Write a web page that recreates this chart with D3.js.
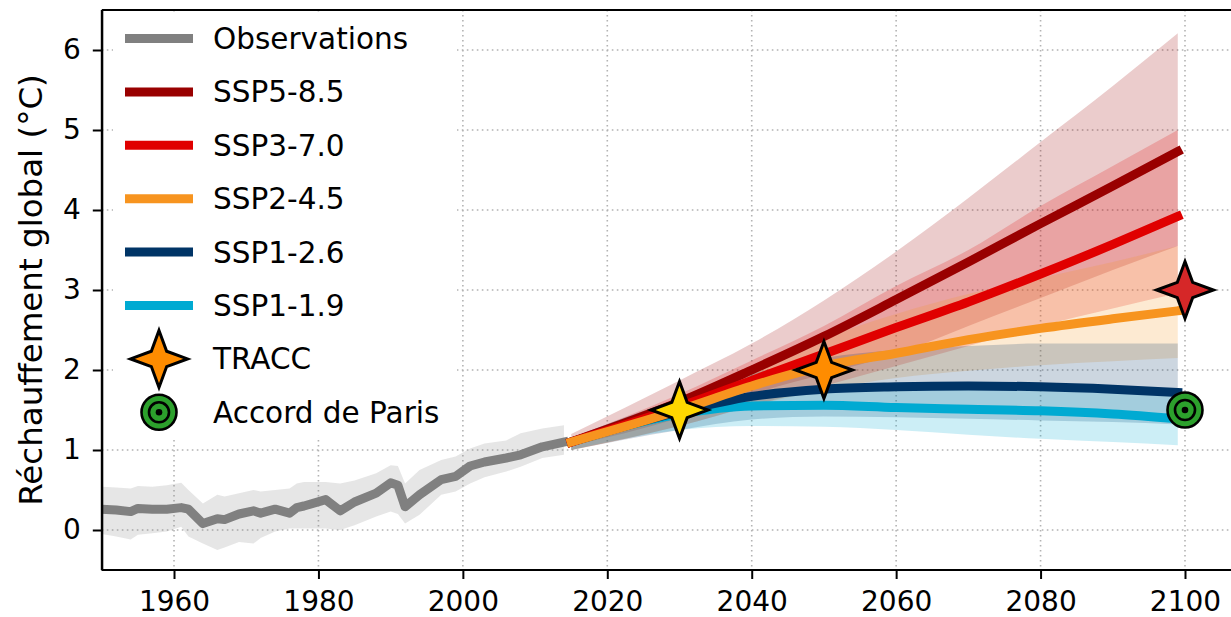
<!DOCTYPE html>
<html>
<head>
<meta charset="utf-8">
<script src="https://cdn.jsdelivr.net/npm/d3@7"></script>
<style>
  html, body { margin: 0; padding: 0; background: #fff; }
  svg { display: block; font-family: "DejaVu Sans", sans-serif; }
</style>
</head>
<body>
<svg id="chart" width="1231" height="617"></svg>
<script>
// ---------------- DATA ----------------
const xTicks = [1960, 1980, 2000, 2020, 2040, 2060, 2080, 2100];
const yTicks = [0, 1, 2, 3, 4, 5, 6];

const obsYears = [1950,1952,1954,1955,1957,1959,1961,1962,1964,1966,1967,1969,1971,1972,1974,1976,1977,1978,1981,1983,1985,1988,1990,1991,1992,1994,1997,1999,2001,2003,2006,2008,2011,2014];
const obsValues = [0.26,0.25,0.23,0.27,0.26,0.26,0.28,0.26,0.08,0.14,0.13,0.20,0.24,0.21,0.26,0.21,0.28,0.30,0.38,0.24,0.35,0.46,0.59,0.56,0.29,0.44,0.63,0.67,0.80,0.85,0.90,0.94,1.04,1.10];
const obsLow = [-0.05,-0.08,-0.12,-0.06,-0.04,-0.02,0.04,-0.08,-0.17,-0.25,-0.22,-0.15,-0.17,-0.10,-0.02,0.02,0.02,0.02,0.02,0.00,0.06,0.17,0.23,0.20,0.08,0.19,0.44,0.48,0.58,0.66,0.73,0.79,0.90,0.94];
const obsHigh = [0.54,0.53,0.52,0.55,0.54,0.56,0.59,0.50,0.33,0.44,0.42,0.46,0.50,0.48,0.50,0.52,0.58,0.60,0.60,0.58,0.62,0.71,0.81,0.80,0.58,0.75,0.875,0.92,1.02,1.08,1.12,1.21,1.27,1.31];

const projYears = [2015, 2030, 2040, 2050, 2060, 2070, 2080, 2090, 2099];
const ssp585 = [1.1, 1.6, 2.0, 2.42, 2.88, 3.35, 3.83, 4.3, 4.73];
const ssp585Low = [1.05, 1.4, 1.7, 1.95, 2.2, 2.55, 2.9, 3.25, 3.55];
const ssp585High = [1.2, 1.87, 2.33, 2.87, 3.48, 4.15, 4.85, 5.55, 6.21];
const ssp370 = [1.1, 1.54, 1.87, 2.2, 2.53, 2.85, 3.2, 3.57, 3.92];
const ssp370Low = [1.0, 1.3, 1.55, 1.8, 2.05, 2.3, 2.55, 2.77, 2.96];
const ssp370High = [1.15, 1.7, 2.12, 2.55, 3.05, 3.5, 4.05, 4.55, 5.0];
const ssp245 = [1.1, 1.5, 1.8, 2.05, 2.21, 2.38, 2.52, 2.64, 2.74];
const ssp245Low = [1.0, 1.3, 1.55, 1.75, 1.9, 1.99, 2.06, 2.11, 2.15];
const ssp245High = [1.15, 1.65, 2.05, 2.4, 2.7, 2.95, 3.15, 3.35, 3.55];
const ssp126 = [1.1, 1.48, 1.67, 1.76, 1.79, 1.80, 1.79, 1.76, 1.72];
const ssp126Low = [1.0, 1.25, 1.38, 1.42, 1.41, 1.39, 1.37, 1.35, 1.32];
const ssp126High = [1.15, 1.65, 1.95, 2.15, 2.25, 2.3, 2.33, 2.33, 2.33];
const ssp119 = [1.1, 1.45, 1.55, 1.56, 1.53, 1.51, 1.49, 1.45, 1.39];
const ssp119Low = [1.0, 1.25, 1.3, 1.29, 1.25, 1.19, 1.14, 1.1, 1.06];
const ssp119High = [1.15, 1.6, 1.72, 1.76, 1.76, 1.75, 1.74, 1.72, 1.7];

const scenarioNames = ["SSP5-8.5", "SSP3-7.0", "SSP2-4.5", "SSP1-2.6", "SSP1-1.9"];
const traccYears = [2030, 2050, 2100];
const traccValues = [1.5, 2.0, 3.0];
const parisYear = 2100;
const parisValue = 1.5;
const legendLabels = ["Observations", "SSP5-8.5", "SSP3-7.0", "SSP2-4.5", "SSP1-2.6", "SSP1-1.9", "TRACC", "Accord de Paris"];
const yLabel = "Réchauffement global (°C)";

// ---------------- STYLES ----------------
const scenarioColors = {"SSP5-8.5": "#990000", "SSP3-7.0": "#e00000", "SSP2-4.5": "#f7941f", "SSP1-2.6": "#003466", "SSP1-1.9": "#00aad2"};
const obsColor = "#808080";
const traccColors = ["#ffd700", "#ff8c00", "#d62728"];
const legendStarColor = "#ff8c00";
const parisColor = "#2ca02c";
const FS_TICK = 28, FS_LEG = 29.5, FS_LAB = 32.5;

const scen = {
  "SSP5-8.5": {mid: ssp585, lo: ssp585Low, hi: ssp585High},
  "SSP3-7.0": {mid: ssp370, lo: ssp370Low, hi: ssp370High},
  "SSP2-4.5": {mid: ssp245, lo: ssp245Low, hi: ssp245High},
  "SSP1-2.6": {mid: ssp126, lo: ssp126Low, hi: ssp126High},
  "SSP1-1.9": {mid: ssp119, lo: ssp119Low, hi: ssp119High}
};

// ---------------- SCALES ----------------
const svg = d3.select("#chart");
const mLeft = 101.8, mTop = 10, mBottom = 570;
const x = d3.scaleLinear().domain([1950, 2110]).range([mLeft, mLeft + 160 * 7.2213]);
const y = d3.scaleLinear().domain([-0.5, 6.5]).range([mBottom, mTop]);
const W = 1231;

// grid
const grid = svg.append("g").attr("stroke", "#b3b3b3").attr("stroke-width", 1.6).attr("stroke-dasharray", "1.6,3.4");
grid.selectAll(".gx").data(xTicks).join("line")
  .attr("x1", d => x(d)).attr("x2", d => x(d)).attr("y1", mTop).attr("y2", mBottom);
grid.selectAll(".gy").data(yTicks).join("line")
  .attr("x1", mLeft).attr("x2", W).attr("y1", d => y(d)).attr("y2", d => y(d));

// clip to plot area
svg.append("clipPath").attr("id", "plotclip").append("rect")
  .attr("x", mLeft).attr("y", mTop).attr("width", W - mLeft).attr("height", mBottom - mTop);
const plot = svg.append("g").attr("clip-path", "url(#plotclip)");

// observation band
const obsData = obsYears.map((yr, i) => ({yr, v: obsValues[i], lo: obsLow[i], hi: obsHigh[i]}));
plot.append("path").datum(obsData)
  .attr("fill", obsColor).attr("fill-opacity", 0.2)
  .attr("d", d3.area().x(d => x(d.yr)).y0(d => y(d.lo)).y1(d => y(d.hi)));

// scenario bands
const bandOrder = ["SSP5-8.5", "SSP3-7.0", "SSP2-4.5", "SSP1-2.6", "SSP1-1.9"];
bandOrder.forEach(name => {
  const s = scen[name];
  const data = projYears.map((yr, i) => ({yr, lo: s.lo[i], hi: s.hi[i]}));
  plot.append("path").datum(data)
    .attr("fill", scenarioColors[name]).attr("fill-opacity", 0.2)
    .attr("d", d3.area().curve(d3.curveMonotoneX).x(d => x(d.yr)).y0(d => y(d.lo)).y1(d => y(d.hi)));
});

// observation line
plot.append("path").datum(obsData)
  .attr("fill", "none").attr("stroke", obsColor).attr("stroke-width", 9)
  .attr("stroke-linecap", "square").attr("stroke-linejoin", "round")
  .attr("d", d3.line().x(d => x(d.yr)).y(d => y(d.v)));

// scenario lines
const lineOrder = ["SSP1-1.9", "SSP1-2.6", "SSP5-8.5", "SSP3-7.0", "SSP2-4.5"];
lineOrder.forEach(name => {
  const s = scen[name];
  const data = projYears.map((yr, i) => ({yr, v: s.mid[i]}));
  plot.append("path").datum(data)
    .attr("fill", "none").attr("stroke", scenarioColors[name]).attr("stroke-width", 9)
    .attr("stroke-linecap", "square").attr("stroke-linejoin", "round")
    .attr("d", d3.line().curve(d3.curveMonotoneX).x(d => x(d.yr)).y(d => y(d.v)));
});

// marker shapes
function starPath(R, ratio) {
  const pts = [];
  for (let k = 0; k < 8; k++) {
    const a = -Math.PI / 2 + k * Math.PI / 4;
    const r = k % 2 === 0 ? R : R * ratio;
    pts.push([r * Math.cos(a), r * Math.sin(a)]);
  }
  return "M" + pts.map(p => p[0].toFixed(2) + "," + p[1].toFixed(2)).join("L") + "Z";
}
const STAR = starPath(28.5, 0.38);
function drawParis(g) {
  g.append("circle").attr("r", 17.5).attr("fill", parisColor).attr("stroke", "#000").attr("stroke-width", 2.6);
  g.append("circle").attr("r", 10).attr("fill", "none").attr("stroke", "#000").attr("stroke-width", 2.6);
  g.append("circle").attr("r", 3.3).attr("fill", "#000");
}

// TRACC stars
const marks = svg.append("g");
traccYears.forEach((yr, i) => {
  marks.append("path").attr("d", STAR)
    .attr("transform", `translate(${x(yr)},${y(traccValues[i])})`)
    .attr("fill", traccColors[i]).attr("stroke", "#000").attr("stroke-width", 3).attr("stroke-linejoin", "miter");
});
// Paris
drawParis(marks.append("g").attr("transform", `translate(${x(parisYear)},${y(parisValue)})`));

// ---------------- AXES ----------------
const axL = svg.append("g").attr("transform", `translate(${mLeft},0)`)
  .call(d3.axisLeft(y).tickValues(yTicks).tickSize(9).tickSizeOuter(0).tickPadding(12).tickFormat(d3.format("d")));
const axB = svg.append("g").attr("transform", `translate(0,${mBottom})`)
  .call(d3.axisBottom(x).tickValues(xTicks).tickSize(9).tickSizeOuter(0).tickPadding(12).tickFormat(d3.format("d")));
[axL, axB].forEach(ax => {
  ax.select(".domain").attr("stroke", "#000").attr("stroke-width", 2);
  ax.selectAll(".tick line").attr("stroke", "#000").attr("stroke-width", 2);
  ax.selectAll(".tick text").attr("fill", "#000").style("font-size", FS_TICK + "px").style("font-family", "DejaVu Sans");
});
axB.select(".domain").attr("d", `M${mLeft},0H${W}`);
svg.append("line").attr("x1", mLeft).attr("x2", W).attr("y1", mTop).attr("y2", mTop)
  .attr("stroke", "#000").attr("stroke-width", 2);
svg.append("line").attr("x1", mLeft).attr("x2", mLeft).attr("y1", mTop).attr("y2", mBottom)
  .attr("stroke", "#000").attr("stroke-width", 2);

// y label
svg.append("text").attr("transform", `translate(42,${(mTop + mBottom) / 2}) rotate(-90)`)
  .attr("text-anchor", "middle").style("font-size", FS_LAB + "px").attr("fill", "#000").text(yLabel);

// ---------------- LEGEND ----------------
const leg = svg.append("g");
leg.append("rect").attr("x", 113).attr("y", 13).attr("width", 344).attr("height", 427).attr("rx", 4).attr("fill", "#fff");
const rowY0 = 38.5, rowStep = 53.4, hx1 = 125, hx2 = 193, tx = 213;
const lineKeys = [obsColor].concat(scenarioNames.map(n => scenarioColors[n]));
legendLabels.forEach((lab, i) => {
  const ry = rowY0 + i * rowStep;
  if (i < 6) {
    leg.append("line").attr("x1", hx1).attr("x2", hx2).attr("y1", ry).attr("y2", ry)
      .attr("stroke", lineKeys[i]).attr("stroke-width", 9);
  } else if (i === 6) {
    leg.append("path").attr("d", STAR).attr("transform", `translate(${(hx1 + hx2) / 2},${ry})`)
      .attr("fill", legendStarColor).attr("stroke", "#000").attr("stroke-width", 3);
  } else {
    drawParis(leg.append("g").attr("transform", `translate(${(hx1 + hx2) / 2},${ry})`));
  }
  leg.append("text").attr("x", tx).attr("y", ry + 10.5).style("font-size", FS_LEG + "px").attr("fill", "#000").text(lab);
});
</script>
</body>
</html>
